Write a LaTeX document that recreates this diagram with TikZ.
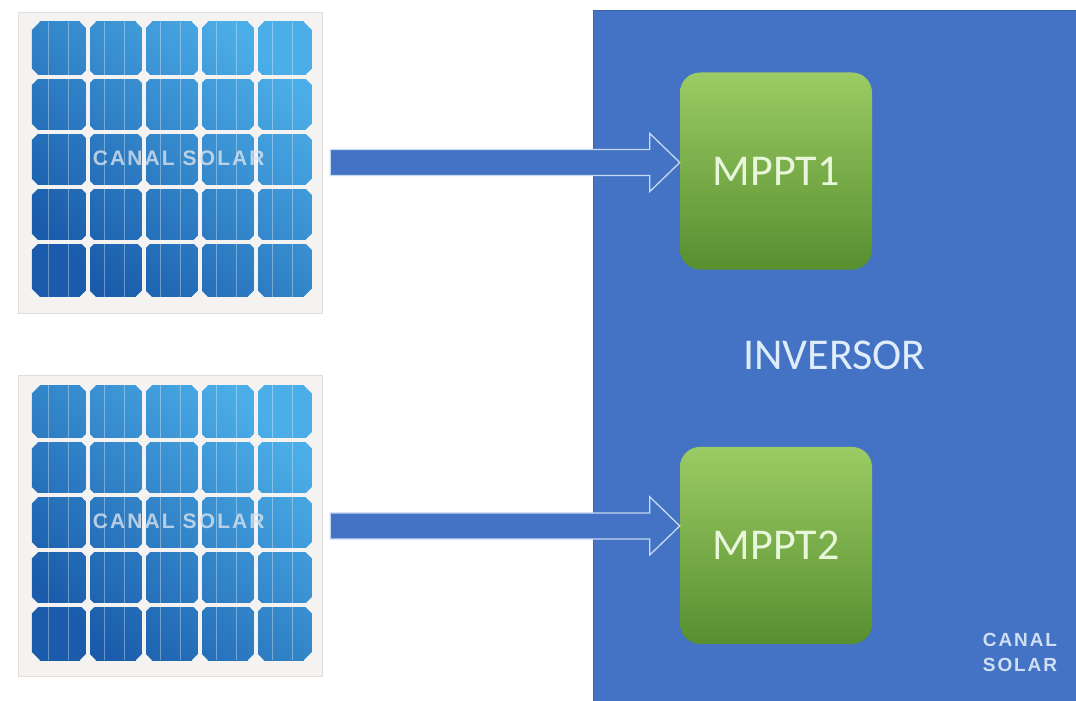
\documentclass[tikz,border=0pt]{standalone}
\usepackage{fontspec}
\setmainfont{Carlito}
\newfontfamily\marcafont[LetterSpace=10]{Liberation Sans}
\usetikzlibrary{positioning}
\usetikzlibrary{calc}

\definecolor{azulinv}{HTML}{4472C4}
\definecolor{bordeinv}{HTML}{3B62AA}
\definecolor{lineaflecha}{HTML}{C6DAF2}
\definecolor{verdesup}{HTML}{9BCB64}
\definecolor{verdeinf}{HTML}{578F2F}
\definecolor{textomppt}{HTML}{E8F6DA}
\definecolor{textoinv}{HTML}{DFECF9}
\definecolor{marco}{HTML}{F5F3F1}
\definecolor{marcoborde}{HTML}{E2DDD9}
\definecolor{celdaclara}{HTML}{4BAEE8}
\definecolor{celdaoscura}{HTML}{1A5CAB}
\definecolor{textoplaca}{HTML}{D9E2EC}

\tikzset{
  placa/.style={draw=marcoborde, fill=marco, minimum width=304, minimum height=301, inner sep=0},
  hueco/.style={fill=marco},
  busbar/.style={draw=white, opacity=0.35, line width=1},
  marcaplaca/.style={text=textoplaca, opacity=0.8, font=\marcafont\bfseries\fontsize{21}{21}\selectfont},
  inversor/.style={draw=bordeinv, fill=azulinv, minimum width=483, minimum height=691, inner sep=0,
    text=textoinv, font=\fontsize{44}{44}\selectfont},
  mppt/.style={rounded corners=20, top color=verdesup, bottom color=verdeinf, minimum width=192,
    minimum height=197, inner sep=0, text=textomppt, font=\fontsize{44}{44}\selectfont},
  flecha/.style={fill=azulinv, draw=lineaflecha, line width=1.3, line join=miter},
  logo/.style={text=textoinv!90!azulinv, align=center, font=\marcafont\bfseries\fontsize{19}{25}\selectfont}
}

\begin{document}
\begin{tikzpicture}[x=1pt, y=-1pt]
    \useasboundingbox[fill=white] (0,0) rectangle (1076,701);

    % Placas solares
    \node[placa] (placa1) at (170,162.5) {};
    \node[placa, below=62pt of placa1] (placa2) {};

    \foreach \pl in {placa1,placa2} {
        \begin{scope}[shift={(\pl.north west)}]
            % celdas con degradado
            \shade[top color=celdaclara, bottom color=celdaoscura, shading angle=-45] (14,10) rectangle (294,285);
            % lineas finas de cada celda
            \foreach \i in {0,...,4}
                \foreach \d in {17,37}
                    \draw[busbar] (14+56*\i+\d,10) -- (14+56*\i+\d,285);
            % separaciones entre celdas
            \foreach \i in {1,...,4} {
                \fill[hueco] (12+56*\i,10) rectangle ++(4,275);
                \fill[hueco] (14,8+55*\i) rectangle ++(280,4);
            }
            % esquinas cortadas
            \foreach \i in {0,...,5}
                \foreach \j in {0,...,5}
                    \fill[hueco] (14+56*\i,10+55*\j) +(-8,0) -- +(0,-8) -- +(8,0) -- +(0,8) -- cycle;
            \node[marcaplaca] at (161,146) {CANAL SOLAR};
        \end{scope}
    }

    % Inversor
    \node[inversor] (inv) at (834.5,355.5) {INVERSOR};

    % Flechas de las placas a cada MPPT
    \node[mppt] (mppt1) at (776,171) {MPPT1};
    \node[mppt, below=177pt of mppt1] (mppt2) {MPPT2};

    \foreach \pl/\mp in {placa1/mppt1, placa2/mppt2} {
        \coordinate (ini) at ($(\pl.east)+(8,0)$);
        \coordinate (tip) at (\mp.west |- \pl.east);
        \draw[flecha] ($(ini)+(0,-13)$) -- ($(tip)+(-30,-13)$) -- ($(tip)+(-30,-29)$) -- (tip)
            -- ($(tip)+(-30,29)$) -- ($(tip)+(-30,13)$) -- ($(ini)+(0,13)$) -- cycle;
    }

    % Marca
    \node[logo] (marca) at (1020,652) {CANAL\\SOLAR};
\end{tikzpicture}
\end{document}
